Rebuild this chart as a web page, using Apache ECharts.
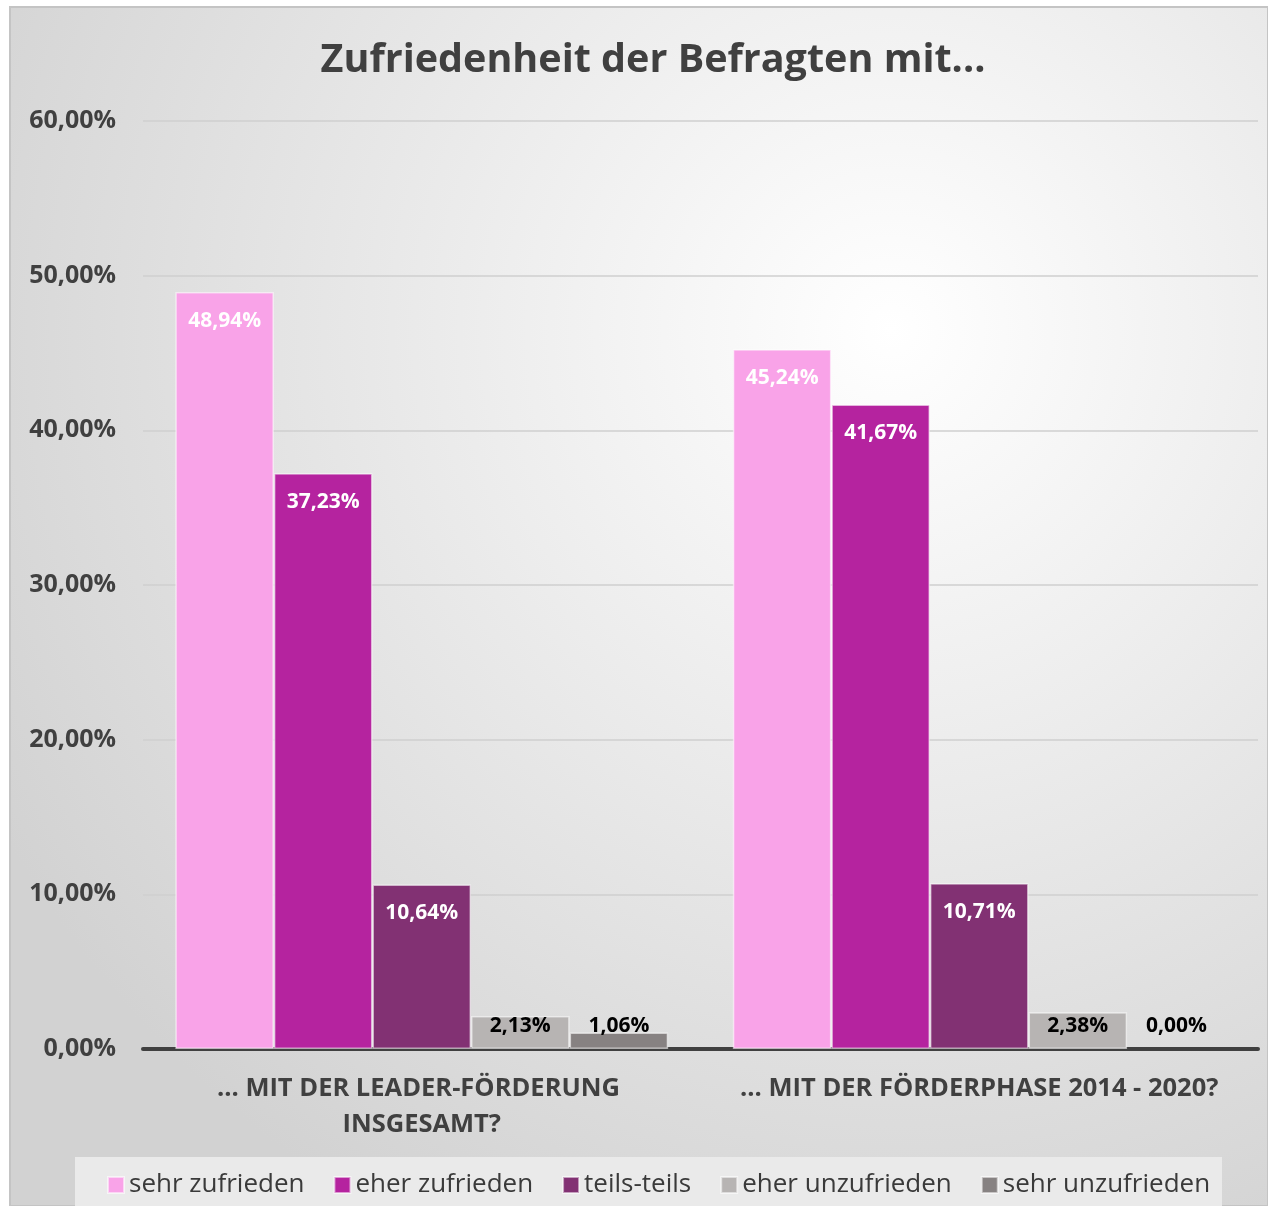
<!DOCTYPE html>
<html>
<head>
<meta charset="utf-8">
<script src="https://cdn.jsdelivr.net/npm/echarts@6/dist/echarts.min.js"></script>
<style>
html, body { margin: 0; padding: 0; background: #ffffff; }
#main { width: 1268px; height: 1206px; }
</style>
</head>
<body>
<div id="main"></div>
<script>
var categories = ['... MIT DER LEADER-FÖRDERUNG INSGESAMT?', '... MIT DER FÖRDERPHASE 2014 - 2020?'];
var seriesNames = ['sehr zufrieden', 'eher zufrieden', 'teils-teils', 'eher unzufrieden', 'sehr unzufrieden'];
var sehrZufrieden = [48.94, 45.24];
var eherZufrieden = [37.23, 41.67];
var teilsTeils = [10.64, 10.71];
var eherUnzufrieden = [2.13, 2.38];
var sehrUnzufrieden = [1.06, 0.00];
var yTicks = [0, 10, 20, 30, 40, 50, 60];

var seriesData = [sehrZufrieden, eherZufrieden, teilsTeils, eherUnzufrieden, sehrUnzufrieden];
var colors = ['#f9a3e8', '#b5239f', '#823173', '#b7b4b3', '#878282'];
var font = "'Open Sans', sans-serif";

function pct(v) {
    return v.toFixed(2).replace('.', ',') + '%';
}

var dom = document.getElementById('main');
var myChart = echarts.init(dom);

var series = [];
for (var i = 0; i < seriesNames.length; i++) {
    var big = i < 3;
    series.push({
        name: seriesNames[i],
        type: 'bar',
        // zero bars get no outline
        data: seriesData[i].map(function (v) {
            return v === 0 ? { value: v, itemStyle: { borderWidth: 0 } } : v;
        }),
        barGap: '0%',
        barCategoryGap: '11.6%',
        itemStyle: {
            color: colors[i],
            borderColor: 'rgba(255,255,255,0.55)',
            borderWidth: 1.5
        },
        label: {
            show: true,
            position: big ? 'insideTop' : 'insideBottom',
            distance: big ? 18 : 12,
            color: big ? '#ffffff' : '#000000',
            fontFamily: font,
            fontWeight: 'bold',
            fontSize: 21,
            formatter: function (p) { return pct(p.value); }
        }
    });
}

var option = {
    animation: false,
    graphic: [
        {
            type: 'rect',
            z: -10,
            silent: true,
            shape: { x: 10, y: 7, width: 1258, height: 1199 },
            style: {
                fill: {
                    type: 'radial', x: 0.7, y: 0.27, r: 0.85,
                    colorStops: [
                        { offset: 0, color: '#ffffff' },
                        { offset: 1, color: '#d2d2d2' }
                    ]
                },
                stroke: '#c4c4c4',
                lineWidth: 2
            }
        },
        {
            type: 'rect',
            z: -9,
            silent: true,
            shape: { x: 75, y: 1157, width: 1147, height: 60 },
            style: { fill: '#eaeaea' }
        }
    ],
    title: {
        text: 'Zufriedenheit der Befragten mit...',
        left: 648,
        textAlign: 'center',
        top: 36,
        textStyle: {
            fontFamily: font,
            fontWeight: 'bold',
            fontSize: 39.5,
            color: '#404040'
        }
    },
    legend: {
        data: seriesNames,
        left: 102,
        top: 1167,
        itemWidth: 16,
        itemHeight: 16,
        itemGap: 29,
        icon: 'rect',
        textStyle: {
            fontFamily: font,
            fontSize: 26,
            color: '#3a3a3a'
        }
    },
    grid: {
        left: 143,
        right: 10,
        top: 121,
        bottom: 157
    },
    xAxis: {
        type: 'category',
        data: categories,
        axisLine: { lineStyle: { color: '#404040', width: 4 } },
        axisTick: { show: false },
        axisLabel: {
            interval: 0,
            width: 510,
            overflow: 'break',
            margin: 22,
            lineHeight: 36,
            fontFamily: font,
            fontWeight: 'bold',
            fontSize: 25.5,
            color: '#404040'
        }
    },
    yAxis: {
        type: 'value',
        min: yTicks[0],
        max: yTicks[yTicks.length - 1],
        interval: 10,
        axisLine: { show: false },
        axisTick: { show: false },
        splitLine: { lineStyle: { color: '#cfcfcf', width: 1.5 } },
        axisLabel: {
            margin: 27,
            fontFamily: font,
            fontWeight: 'bold',
            fontSize: 25,
            color: '#404040',
            formatter: function (v) { return pct(v); }
        }
    },
    series: series
};

if (option && typeof option === 'object') {
    myChart.setOption(option, true);
}
</script>
</body>
</html>
